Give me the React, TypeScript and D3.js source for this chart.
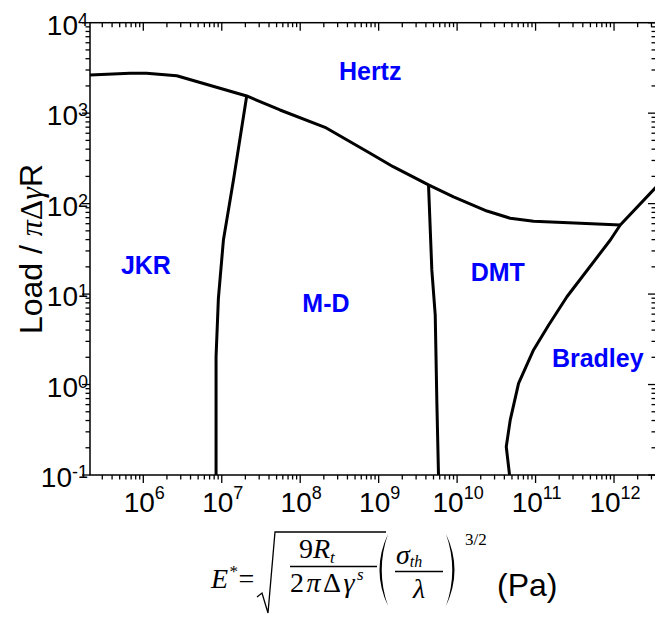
import React from "react";
import * as d3 from "d3";

// Contact-mechanics regime map: boundaries between Hertz, JKR, M-D, DMT and Bradley
const hertzE = [2.09e5, 6.76e5, 1.1e6, 2.67e6, 2.08e7, 5.53e7, 2.07e8, 7.78e8, 1.53e9, 4.32e9, 9.0e9, 2.4e10, 4.75e10, 9.44e10, 3.72e11, 1.2e12];
const hertzLoad = [2642, 2761, 2761, 2594, 1549, 1084, 698, 360, 256, 161, 119, 82.8, 68.9, 63.8, 60.5, 58.1];

const jkrMdE = [2.08e7, 1.41e7, 1.05e7, 9.06e6, 8.46e6, 8.46e6];
const jkrMdLoad = [1549, 182, 39.6, 8.98, 2.03, 0.1];

const mdDmtE = [4.32e9, 4.76e9, 5.26e9, 5.52e9, 5.79e9];
const mdDmtLoad = [161, 18.5, 5.87, 0.625, 0.1];

const bradleyE = [4.5e12, 1.2e12, 8.97e11, 2.51e11, 1.47e11, 9.42e10, 6.07e10, 4.75e10, 4.23e10, 4.66e10];
const bradleyLoad = [195, 58.1, 39.6, 9.35, 4.55, 2.41, 1.03, 0.404, 0.205, 0.1];

const regionNames = ["Hertz", "JKR", "M-D", "DMT", "Bradley"];
const regionE = [7.8e8, 1.08e6, 2.13e8, 3.3e10, 6.2e11];
const regionLoad = [2330, 16.7, 6.34, 14.1, 1.57];

const xDecades = [6, 7, 8, 9, 10, 11, 12];
const yDecades = [-1, 0, 1, 2, 3, 4];

const W = 655;
const H = 618;
const L = 90;
const R = 656;
const T = 22.7;
const B = 475;

const x = d3.scaleLog().domain([Math.pow(10, 5.3206), Math.pow(10, 12.535)]).range([L, R]);
const y = d3.scaleLog().domain([0.1, 1e4]).range([B, T]);

const zip = (a: number[], b: number[]) => a.map((v, i) => [v, b[i]] as [number, number]);
const line = d3
  .line<[number, number]>()
  .x((d) => x(d[0]))
  .y((d) => y(d[1]));

function minorTicks(scale: d3.ScaleLogarithmic<number, number>, from: number, to: number) {
  const [d0, d1] = scale.domain();
  const out: number[] = [];
  for (let e = from; e <= to; e++) {
    for (let k = 2; k <= 9; k++) {
      const v = k * Math.pow(10, e);
      if (v >= d0 && v <= d1) out.push(v);
    }
  }
  return out;
}

const tickFont = "'Liberation Sans', Arial, sans-serif";
const serif = "'Liberation Serif', 'Times New Roman', serif";

export default function App() {
  const xMinor = minorTicks(x, 5, 12);
  const yMinor = minorTicks(y, -1, 3);
  const curves = [
    zip(hertzE, hertzLoad),
    zip(jkrMdE, jkrMdLoad),
    zip(mdDmtE, mdDmtLoad),
    zip(bradleyE, bradleyLoad),
  ];
  const major = 8;
  const minor = 4.5;
  return (
    <svg
      width={W}
      height={H}
      style={{ position: "fixed", left: 0, top: 0, background: "#fff" }}
    >
      <defs>
        <clipPath id="plot-clip">
          <rect x={L} y={T} width={R - L} height={B - T} />
        </clipPath>
      </defs>

      {/* regime boundaries */}
      <g clipPath="url(#plot-clip)" fill="none" stroke="#000" strokeWidth={3} strokeLinejoin="round">
        {curves.map((c, i) => (
          <path key={i} d={line(c) || ""} />
        ))}
      </g>

      {/* frame */}
      <rect x={L} y={T} width={R - L} height={B - T} fill="none" stroke="#000" strokeWidth={1.5} />

      {/* bottom / top and left / right ticks */}
      <g stroke="#000" strokeWidth={1.3}>
        {xDecades.map((e) => {
          const px = x(Math.pow(10, e));
          return (
            <g key={"xM" + e}>
              <line x1={px} x2={px} y1={B} y2={B + major} />
              <line x1={px} x2={px} y1={T} y2={T + major} />
            </g>
          );
        })}
        {xMinor.map((v, i) => {
          const px = x(v);
          return (
            <g key={"xm" + i}>
              <line x1={px} x2={px} y1={B} y2={B + minor} />
              <line x1={px} x2={px} y1={T} y2={T + minor} />
            </g>
          );
        })}
        {yDecades.map((e) => {
          const py = y(Math.pow(10, e));
          return (
            <g key={"yM" + e}>
              <line x1={L - major} x2={L} y1={py} y2={py} />
              <line x1={R - major} x2={R} y1={py} y2={py} />
            </g>
          );
        })}
        {yMinor.map((v, i) => {
          const py = y(v);
          return (
            <g key={"ym" + i}>
              <line x1={L - minor} x2={L} y1={py} y2={py} />
              <line x1={R - minor} x2={R} y1={py} y2={py} />
            </g>
          );
        })}
      </g>

      {/* tick labels */}
      <g fontFamily={tickFont} fill="#000">
        {xDecades.map((e) => (
          <text key={"xl" + e} x={x(Math.pow(10, e)) + 1} y={511.5} fontSize={28} textAnchor="middle">
            10
            <tspan fontSize={18} dy={-13}>
              {e}
            </tspan>
          </text>
        ))}
        {yDecades.map((e) => (
          <text key={"yl" + e} x={88} y={y(Math.pow(10, e)) + 12} fontSize={28} textAnchor="end">
            10
            <tspan fontSize={18} dy={-9}>
              {e < 0 ? "-" + Math.abs(e) : e}
            </tspan>
          </text>
        ))}
      </g>

      {/* region names */}
      <g fontFamily={tickFont} fontWeight="bold" fontSize={25} fill="#0000ff" textAnchor="middle">
        {regionNames.map((n, i) => (
          <text key={n} x={x(regionE[i])} y={y(regionLoad[i])}>
            {n}
          </text>
        ))}
      </g>

      {/* y axis title */}
      <text transform="translate(42,249) rotate(-90)" textAnchor="middle" fontSize={32} fontFamily={tickFont}>
        Load /{" "}
        <tspan fontFamily={serif} fontStyle="italic">π</tspan>
        <tspan fontFamily={serif}>Δ</tspan>
        <tspan fontFamily={serif} fontStyle="italic">γ</tspan>
        R
      </text>

      {/* x axis title: E* formula */}
      <g fontFamily={serif} fill="#000">
        <text x={211} y={588} fontSize={28} fontStyle="italic">E</text>
        <text x={229.5} y={577} fontSize={17}>*</text>
        <text x={238.5} y={588} fontSize={28}>=</text>
        <path d="M257,597 L262,593 L268,613 L275,532 L386,532" fill="none" stroke="#000" strokeWidth={1.3} />
        <text x={299} y={558} fontSize={28}>
          9<tspan fontStyle="italic">R</tspan>
          <tspan fontSize={17} fontStyle="italic" dy={5}>t</tspan>
        </text>
        <line x1={290} x2={377} y1={566.5} y2={566.5} stroke="#000" strokeWidth={1.3} />
        <text x={290} y={592} fontSize={28} letterSpacing={2.5}>
          2<tspan fontStyle="italic">π</tspan>Δ<tspan fontStyle="italic">γ</tspan>
          <tspan fontSize={17} fontStyle="italic" dy={-12} letterSpacing={0}>s</tspan>
        </text>
        <path d="M388,534 Q371,570 388,606 Q375.5,570 388,534 Z" fill="#000" />
        <text x={396} y={564} fontSize={28} fontStyle="italic">
          σ<tspan fontSize={16} dy={3}>th</tspan>
        </text>
        <line x1={395} x2={443} y1={571.5} y2={571.5} stroke="#000" strokeWidth={1.3} />
        <text x={419} y={598} fontSize={28} fontStyle="italic" textAnchor="middle">λ</text>
        <path d="M446,534 Q463,570 446,606 Q458.5,570 446,534 Z" fill="#000" />
        <text x={465} y={545} fontSize={17}>3/2</text>
      </g>
      <text x={497} y={596} fontSize={32} fontFamily={tickFont}>(Pa)</text>
    </svg>
  );
}
